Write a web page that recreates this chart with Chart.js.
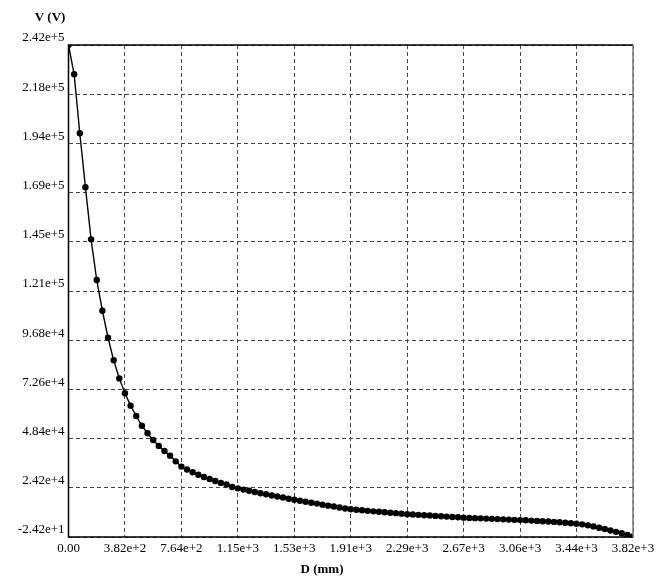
<!DOCTYPE html>
<html>
<head>
<meta charset="utf-8">
<script src="https://cdn.jsdelivr.net/npm/chart.js@4/dist/chart.umd.min.js"></script>
<style>
  html, body { margin: 0; padding: 0; background: #fff; }
  #wrap { width: 664px; height: 585px; }
</style>
</head>
<body>
<div id="wrap"><canvas id="curve"></canvas></div>
<script>
// distance D (mm), one sample every 38.2 mm
var distances = [];
for (var i = 0; i <= 100; i++) distances.push(+(i * 38.2).toFixed(1));

// potential V (V)
var voltages = [
  242000, 227600, 198600, 172000, 146400, 126400, 111300, 98000, 86900, 78000,
  70700, 64600, 59500, 54700, 51000, 47700, 44800, 42300, 40000, 37200,
  34600, 33200, 31800, 30600, 29500, 28500, 27500, 26600, 25800, 24600,
  23900, 23300, 22700, 22100, 21500, 21000, 20400, 19900, 19400, 18800,
  18300, 17800, 17300, 16800, 16400, 15900, 15400, 15000, 14500, 14000,
  13600, 13350, 13100, 12850, 12600, 12400, 12150, 11900, 11700, 11450,
  11200, 11030, 10860, 10690, 10520, 10350, 10180, 10010, 9840, 9670,
  9500, 9380, 9260, 9140, 9020, 8900, 8780, 8660, 8540, 8420,
  8300, 8200, 8050, 7900, 7750, 7600, 7400, 7200, 7000, 6750,
  6500, 6200, 5700, 5200, 4500, 3900, 3200, 2500, 1800, 1000,
  200
];

var xTickLabels = ['0.00', '3.82e+2', '7.64e+2', '1.15e+3', '1.53e+3', '1.91e+3',
                   '2.29e+3', '2.67e+3', '3.06e+3', '3.44e+3', '3.82e+3'];
var yTickLabels = ['-2.42e+1', '2.42e+4', '4.84e+4', '7.26e+4', '9.68e+4', '1.21e+5',
                   '1.45e+5', '1.69e+5', '1.94e+5', '2.18e+5', '2.42e+5'];

var xMin = 0, xMax = 3820;
var yMin = -24.2, yMax = 242000;

var points = distances.map(function (d, k) { return { x: d, y: voltages[k] }; });

function evenTicks(min, max) {
  return function (scale) {
    var t = [];
    for (var k = 0; k <= 10; k++) t.push({ value: min + k * (max - min) / 10 });
    scale.ticks = t;
  };
}

// frame round the plot and the two axis titles
var frameAndTitles = {
  id: 'frameAndTitles',
  afterDraw: function (chart) {
    var c = chart.ctx, a = chart.chartArea;
    c.save();
    c.strokeStyle = '#000';
    c.lineWidth = 1.5;
    c.beginPath();
    c.moveTo(a.right, a.top);
    c.lineTo(a.left, a.top);
    c.lineTo(a.left, a.bottom);
    c.lineTo(a.right, a.bottom);
    c.stroke();
    c.strokeStyle = '#777';
    c.beginPath();
    c.moveTo(a.right, a.top);
    c.lineTo(a.right, a.bottom);
    c.stroke();
    c.fillStyle = '#000';
    c.font = 'bold 13px "Liberation Serif"';
    c.textBaseline = 'middle';
    c.textAlign = 'center';
    c.fillText('V (V)', 50, 18);
    c.fillText('D (mm)', 322, 570);
    c.restore();
  }
};

new Chart(document.getElementById('curve'), {
  type: 'scatter',
  data: {
    datasets: [{
      label: 'V',
      data: points,
      showLine: true,
      borderColor: '#000',
      borderWidth: 1.4,
      backgroundColor: '#000',
      pointRadius: 3.2,
      pointHoverRadius: 3.2,
      pointBorderWidth: 0,
      tension: 0
    }]
  },
  options: {
    responsive: true,
    maintainAspectRatio: false,
    animation: false,
    layout: { padding: { top: 45, right: 31, left: 0, bottom: 0 } },
    scales: {
      x: {
        type: 'linear',
        min: xMin,
        max: xMax,
        afterBuildTicks: evenTicks(xMin, xMax),
        afterFit: function (s) { s.height = 48; },
        grid: { color: '#444', lineWidth: 1, drawTicks: false },
        border: { display: false, dash: [4, 3] },
        ticks: {
          padding: 4,
          color: '#000',
          font: { family: 'Liberation Serif', size: 13 },
          maxRotation: 0,
          autoSkip: false,
          callback: function (v, k) { return xTickLabels[k]; }
        }
      },
      y: {
        type: 'linear',
        min: yMin,
        max: yMax,
        afterBuildTicks: evenTicks(yMin, yMax),
        afterFit: function (s) { s.width = 68.5; },
        grid: { color: '#444', lineWidth: 1, drawTicks: false },
        border: { display: false, dash: [4, 3] },
        ticks: {
          padding: 4,
          labelOffset: -7,
          color: '#000',
          font: { family: 'Liberation Serif', size: 13 },
          autoSkip: false,
          callback: function (v, k) { return yTickLabels[k]; }
        }
      }
    },
    plugins: {
      legend: { display: false },
      tooltip: { enabled: false }
    }
  },
  plugins: [frameAndTitles]
});
</script>
</body>
</html>
